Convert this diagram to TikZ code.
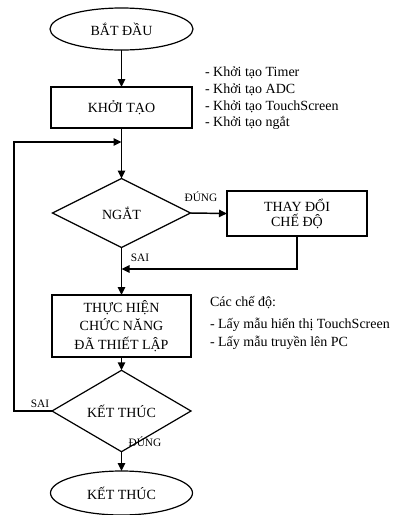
\documentclass[tikz,border=0pt]{standalone}
\usepackage{fontspec}
\setmainfont{Liberation Serif}
\usetikzlibrary{arrows.meta,shapes.geometric}
\begin{document}
\begin{tikzpicture}[x=0.75pt,y=-0.75pt,
  every node/.style={inner sep=0pt,outer sep=0pt},
  boxfont/.style={font=\fontsize{10.5}{14}\selectfont},
  term/.style={draw,ellipse,line width=0.9pt,boxfont},
  proc/.style={draw,rectangle,line width=0.9pt,boxfont,align=center},
  dec/.style={draw,diamond,line width=0.9pt,boxfont},
  lbl/.style={font=\fontsize{8.5}{10}\selectfont},
  note/.style={anchor=base west,font=\fontsize{10.5}{12}\selectfont},
  conn/.style={line width=1.1pt},
  arr/.style={conn,-{Triangle[length=6pt,width=5.5pt]}}
]
\useasboundingbox (0,0) rectangle (399,515);

\node[term,minimum width=107.25pt,minimum height=31.5pt] (start) at (121.5,29) {BẮT ĐẦU};
\node[proc,minimum width=105.75pt,minimum height=30.75pt] (init) at (121.5,107.5) {KHỞI TẠO};
\node[dec,minimum width=103.5pt,minimum height=51.75pt] (ngat) at (121.5,213) {NGẮT};
\node[proc,minimum width=105pt,minimum height=33.75pt,font=\fontsize{10.5}{11.25}\selectfont] (change) at (297,213.5) {THAY ĐỔI\\CHẾ ĐỘ};
\node[proc,minimum width=104.25pt,minimum height=46.5pt] (exec) at (121.5,326) {THỰC HIỆN\\CHỨC NĂNG\\ĐÃ THIẾT LẬP};
\node[dec,minimum width=104.25pt,minimum height=36pt] (endq) at (121.5,411) {KẾT THÚC};
\node[term,minimum width=106.5pt,minimum height=33pt] (stop) at (121.5,493) {KẾT THÚC};

\node[note] (n1) at (205,76) {- Khởi tạo Timer};
\node[note] (n2) at (205,93) {- Khởi tạo ADC};
\node[note] (n3) at (205,110) {- Khởi tạo TouchScreen};
\node[note] (n4) at (205,126) {- Khởi tạo ngắt};
\node[note] (m1) at (210,306) {Các chế độ:};
\node[note] (m2) at (210,328) {- Lấy mẫu hiển thị TouchScreen};
\node[note] (m3) at (210,346) {- Lấy mẫu truyền lên PC};

\coordinate (loopjoin) at (121.5,142);
\coordinate (merge) at (121.5,269);

\draw[arr] (start) -- (init);
\draw[arr] (init.south) -- (ngat.north);
\draw[arr] (ngat.east) -- (change.west);
\draw[arr] (change.south) |- (merge);
\draw[arr] (ngat.south) -- (exec.north);
\draw[arr] (exec.south) -- (endq.north);
\draw[arr] (endq.south) -- (stop.north);
\draw[arr] (endq.west) -- ++(-38,0) |- (loopjoin);

\node[lbl] (ldung1) at (201,197) {ĐÚNG};
\node[lbl] (lsai1) at (140,258) {SAI};
\node[lbl] (lsai2) at (40,404) {SAI};
\node[lbl] (ldung2) at (145,442) {ĐÚNG};
\end{tikzpicture}
\end{document}
